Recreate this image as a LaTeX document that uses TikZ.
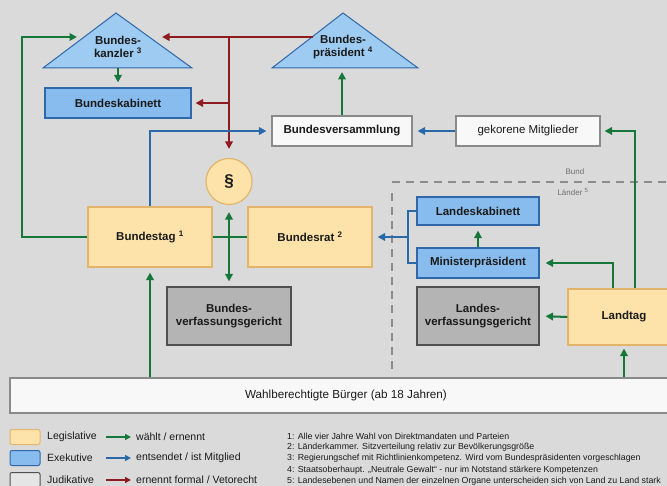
\documentclass[tikz,border=0pt]{standalone}
\usepackage{fontspec}
\setmainfont{Liberation Sans}
\usetikzlibrary{arrows.meta}
\definecolor{bg}{HTML}{DADADA}
\definecolor{legfill}{HTML}{FDE3AA}
\definecolor{legdraw}{HTML}{E3B46C}
\definecolor{exfill}{HTML}{88BCEE}
\definecolor{exdraw}{HTML}{2F67A8}
\definecolor{trifill}{HTML}{9DCBF2}
\definecolor{judfill}{HTML}{B4B4B4}
\definecolor{juddraw}{HTML}{505050}
\definecolor{whfill}{HTML}{F8F8F8}
\definecolor{whdraw}{HTML}{8A8A8A}
\definecolor{gr}{HTML}{16773A}
\definecolor{rd}{HTML}{8E1B1F}
\definecolor{bl}{HTML}{2A69A8}
\definecolor{dashc}{HTML}{8C8C8C}
\definecolor{txt}{HTML}{1A1A1A}
\begin{document}
\begin{tikzpicture}[x=1pt,y=-1pt,
  box/.style={rectangle, draw, line width=1.2pt, align=center, inner sep=0pt, text=txt,
    font=\fontsize{11.5}{13.5}\selectfont\bfseries},
  legis/.style={box, fill=legfill, draw=legdraw},
  exek/.style={box, fill=exfill, draw=exdraw},
  judi/.style={box, fill=judfill, draw=juddraw},
  plainbox/.style={box, fill=whfill, draw=whdraw},
  tritext/.style={align=center, inner sep=0pt, text=txt, font=\fontsize{11.5}{13.5}\selectfont\bfseries},
  tri/.style={fill=trifill, draw=exdraw, line width=1pt},
  tip/.style={-{Triangle[length=7.5pt,width=7.5pt]}},
  ga/.style={draw=gr, line width=2pt, tip},
  gline/.style={draw=gr, line width=2pt},
  ra/.style={draw=rd, line width=2pt, tip},
  ba/.style={draw=bl, line width=2pt, tip},
  bline/.style={draw=bl, line width=2pt},
  legtext/.style={anchor=west, inner sep=0pt, text=txt, font=\fontsize{10.5}{12}\selectfont},
  notetext/.style={anchor=west, inner sep=0pt, text=txt, font=\fontsize{8.8}{10}\selectfont},
  swatch/.style={minimum width=30pt, minimum height=15pt, rounded corners=2pt, line width=1pt},
  lega/.style={line width=1.6pt, -{Triangle[length=6pt,width=6pt]}}
]
\useasboundingbox (0,0) rectangle (667,486);
\fill[bg] (0,0) rectangle (667,486);

% Bund / Laender separation
\draw[dashc, line width=2pt, dash pattern=on 8pt off 6pt] (392,182) -- (667,182);
\draw[dashc, line width=2pt, dash pattern=on 8pt off 6pt] (392,193) -- (392,372);
\node[inner sep=0pt, text=dashc!80!black, font=\fontsize{8}{9}\selectfont] (bund) at (575,172) {Bund};
\node[inner sep=0pt, text=dashc!80!black, font=\fontsize{8}{9}\selectfont] (laender) at (573,192) {Länder~\textsuperscript{5}};

% triangles
\filldraw[tri] (116,13) -- (192,68) -- (43,68) -- cycle;
\node[tritext] (kanzler) at (118,47) {Bundes-\\kanzler~\textsuperscript{3}};
\filldraw[tri] (343,13) -- (418,68) -- (272,68) -- cycle;
\node[tritext] (praes) at (343,47) {Bundes-\\präsident~\textsuperscript{4}};

% nodes
\node[exek, minimum width=146pt, minimum height=30pt] (kabinett) at (118,103) {Bundeskabinett};
\node[plainbox, minimum width=140pt, minimum height=30pt] (bversamm) at (342,131) {Bundesversammlung};
\node[plainbox, minimum width=144pt, minimum height=30pt] (gekorene) at (528,131) {\mdseries gekorene Mitglieder};
\node[circle, draw=legdraw, fill=legfill, line width=1.2pt, minimum size=46pt, inner sep=0pt,
      font=\fontsize{17}{19}\selectfont\bfseries, text=txt] (para) at (229,181.5) {§};
\node[legis, minimum width=124pt, minimum height=60pt] (bundestag) at (150,237) {Bundestag~\textsuperscript{1}};
\node[legis, minimum width=124pt, minimum height=60pt] (bundesrat) at (310,237) {Bundesrat~\textsuperscript{2}};
\node[judi, minimum width=124pt, minimum height=58pt] (bverfg) at (229,316) {Bundes-\\verfassungsgericht};
\node[exek, minimum width=122pt, minimum height=28pt] (lkab) at (478,211) {Landeskabinett};
\node[exek, minimum width=122pt, minimum height=30pt] (mp) at (478,263) {Ministerpräsident};
\node[judi, minimum width=122pt, minimum height=58pt] (lverfg) at (478,316) {Landes-\\verfassungsgericht};
\node[legis, minimum width=112pt, minimum height=56pt] (landtag) at (624,317) {Landtag};
\node[plainbox, minimum width=672pt, minimum height=35pt, font=\fontsize{11.7}{13.5}\selectfont] (buerger) at (346,395.5) {Wahlberechtigte Bürger (ab 18 Jahren)};

% coordinates on triangles
\coordinate (kzin) at (77,37);
\coordinate (kzR) at (162,37);
\coordinate (prL) at (313,37);
\coordinate (rj) at (229,37);
\coordinate (kzB) at (118,68);
\coordinate (prB) at (342,68);
\coordinate (br) at (408,237);

% connectors
\draw[ga] (bundestag.west) -- ++(-65,0) |- (kzin);
\draw[ga, shorten >=5pt] (kzB) -- (kabinett.north);
\draw[ra] (prL) -- (kzR);
\draw[ra, shorten >=9pt] (rj) -- (para.north);
\draw[ra, shorten >=4pt] (rj |- kabinett.east) -- (kabinett.east);
\draw[ba, shorten >=5pt] (bundestag.north) |- (bversamm.west);
\draw[ga, shorten >=4pt] (bversamm.north) -- (prB);
\draw[ba, shorten >=5pt] (gekorene.west) -- (bversamm.east);
\draw[ga, shorten >=4pt] ([xshift=11pt]landtag.north) |- (gekorene.east);
\draw[gline] (bundestag.east) -- (bundesrat.west);
\draw[draw=gr, line width=2pt, {Triangle[length=7.5pt,width=7.5pt]}-{Triangle[length=7.5pt,width=7.5pt]}, shorten <=7pt, shorten >=5pt] (para.south) -- (bverfg.north);
\draw[bline] (lkab.west) -| (br) |- (mp.west);
\draw[ba, shorten >=5pt] (br) -- (bundesrat.east);
\draw[ga, shorten >=5pt] (mp.north) -- (lkab.south);
\draw[ga, shorten >=6pt] ([xshift=-11pt]landtag.north) |- (mp.east);
\draw[ga, shorten >=6pt] (landtag.west) -- (lverfg.east);
\draw[ga, shorten >=5pt] (bundestag.south |- buerger.north) -- (bundestag.south);
\draw[ga, shorten >=3pt] (landtag.south |- buerger.north) -- (landtag.south);

% legend
\node[swatch, fill=legfill, draw=legdraw] (sw1) at (25,437) {};
\node[swatch, fill=exfill, draw=exdraw] (sw2) at (25,458) {};
\node[swatch, fill=bg!70!white, draw=juddraw] (sw3) at (25,480) {};
\node[legtext] (lt1) at (47,437) {Legislative};
\node[legtext] (lt2) at (47,458) {Exekutive};
\node[legtext] (lt3) at (47,480) {Judikative};
\coordinate (a1s) at (106,437); \coordinate (a1e) at (131,437);
\coordinate (a2s) at (106,458); \coordinate (a2e) at (131,458);
\coordinate (a3s) at (106,480); \coordinate (a3e) at (131,480);
\draw[lega, draw=gr] (a1s) -- (a1e);
\draw[lega, draw=bl] (a2s) -- (a2e);
\draw[lega, draw=rd] (a3s) -- (a3e);
\node[legtext] (at1) at (136,437) {wählt / ernennt};
\node[legtext] (at2) at (136,458) {entsendet / ist Mitglied};
\node[legtext] (at3) at (136,480) {ernennt formal / Vetorecht};

% notes
\node[notetext] (n1) at (287,436) {1: Alle vier Jahre Wahl von Direktmandaten und Parteien};
\node[notetext] (n2) at (287,447.3) {2: Länderkammer. Sitzverteilung relativ zur Bevölkerungsgröße};
\node[notetext] (n3) at (287,458.6) {3: Regierungschef mit Richtlinienkompetenz. Wird vom Bundespräsidenten vorgeschlagen};
\node[notetext] (n4) at (287,469.9) {4: Staatsoberhaupt. „Neutrale Gewalt“ - nur im Notstand stärkere Kompetenzen};
\node[notetext] (n5) at (287,481.2) {5: Landesebenen und Namen der einzelnen Organe unterscheiden sich von Land zu Land stark};
\end{tikzpicture}
\end{document}
